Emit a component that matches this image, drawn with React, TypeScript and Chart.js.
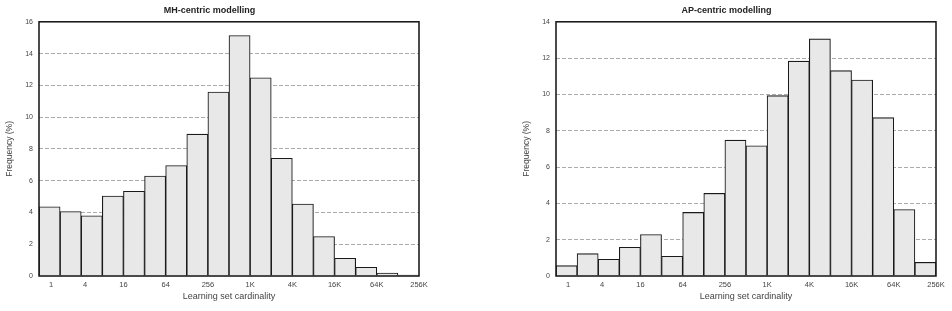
import React, { useEffect, useRef } from "react";
import { Chart, registerables } from "chart.js";

Chart.register(...registerables);

const tickLabels = ["1", "4", "16", "64", "256", "1K", "4K", "16K", "64K", "256K"];
const tickPositions = [0.57, 2.18, 4, 6, 8, 10, 12, 14, 16, 18];

const mhValues = [4.36, 4.06, 3.79, 5.03, 5.33, 6.29, 6.95, 8.93, 11.58, 15.14, 12.48, 7.41, 4.53, 2.48, 1.12, 0.55, 0.19, 0.06];
const apValues = [0.57, 1.23, 0.92, 1.58, 2.28, 1.09, 3.5, 4.55, 7.48, 7.17, 9.93, 11.83, 13.06, 11.31, 10.79, 8.72, 3.66, 0.75];

const mhTitle = "MH-centric modelling";
const apTitle = "AP-centric modelling";
const xTitle = "Learning set cardinality";
const yTitle = "Frequency (%)";

const FONT = "'Liberation Sans', Arial, Helvetica, sans-serif";

const borderPlugin = {
  id: "plotBorder",
  afterDatasetsDraw(chart: any) {
    const { ctx, chartArea } = chart;
    ctx.save();
    ctx.strokeStyle = "#111";
    ctx.lineWidth = 1.5;
    ctx.strokeRect(chartArea.left, chartArea.top, chartArea.right - chartArea.left, chartArea.bottom - chartArea.top);
    ctx.restore();
  },
};

function HistChart(props: { values: number[]; title: string; yMax: number; padLeft: number; padRight: number }) {
  const ref = useRef<HTMLCanvasElement | null>(null);
  useEffect(() => {
    if (!ref.current) return;
    const { values, title, yMax, padLeft, padRight } = props;
    const chart = new Chart(ref.current, {
      type: "bar",
      data: {
        datasets: [
          {
            data: values.map((v, i) => ({ x: i + 0.5, y: v })),
            backgroundColor: "#e8e8e8",
            borderColor: "#1a1a1a",
            borderWidth: 1.1,
            barPercentage: 1,
            categoryPercentage: 1,
          },
        ],
      },
      options: {
        responsive: false,
        animation: false,
        devicePixelRatio: 1,
        layout: { padding: { left: padLeft, right: padRight, top: 0, bottom: 0 } },
        plugins: {
          legend: { display: false },
          tooltip: { enabled: false },
          title: {
            display: true,
            text: title,
            color: "#222",
            font: { family: FONT, size: 9, weight: "bold" },
            padding: { top: 5, bottom: 6 },
          },
        },
        scales: {
          x: {
            type: "linear",
            min: 0,
            max: 18,
            offset: false,
            grid: { display: false, drawTicks: false },
            border: { display: false },
            afterBuildTicks: (scale: any) => {
              scale.ticks = tickPositions.map((v) => ({ value: v }));
            },
            afterFit: (scale: any) => {
              scale.height = 35;
            },
            ticks: {
              autoSkip: false,
              maxRotation: 0,
              color: "#444",
              font: { family: FONT, size: 7.5 },
              padding: 4,
              callback: (_v: any, i: number) => tickLabels[i],
            },
            title: {
              display: true,
              text: xTitle,
              color: "#444",
              font: { family: FONT, size: 9 },
              padding: { top: 0, bottom: 9 },
            },
          },
          y: {
            min: 0,
            max: yMax,
            grid: {
              color: (c: any) => (c.tick && (c.tick.value === 0 || c.tick.value === yMax) ? "rgba(0,0,0,0)" : "#ababab"),
              drawTicks: false,
              lineWidth: 1,
            },
            border: { display: false, dash: [4, 2] },
            afterFit: (scale: any) => {
              scale.width = 39;
            },
            ticks: {
              stepSize: 2,
              color: "#444",
              font: { family: FONT, size: 7 },
              padding: 6,
            },
            title: {
              display: true,
              text: yTitle,
              color: "#444",
              font: { family: FONT, size: 8.5 },
              padding: { top: 5, bottom: 0 },
            },
          },
        },
      },
      plugins: [borderPlugin],
    } as any);
    return () => chart.destroy();
  }, []);
  return <canvas ref={ref} width={476} height={311} style={{ display: "block" }} />;
}

export default function App() {
  return (
    <div style={{ position: "fixed", left: 0, top: 0, width: 952, height: 311, background: "#fff" }}>
      <div style={{ position: "absolute", left: 0, top: 0, width: 476, height: 311 }}>
        <HistChart values={mhValues} title={mhTitle} yMax={16} padLeft={0} padRight={57} />
      </div>
      <div style={{ position: "absolute", left: 476, top: 0, width: 476, height: 311 }}>
        <HistChart values={apValues} title={apTitle} yMax={14} padLeft={41} padRight={16} />
      </div>
    </div>
  );
}
